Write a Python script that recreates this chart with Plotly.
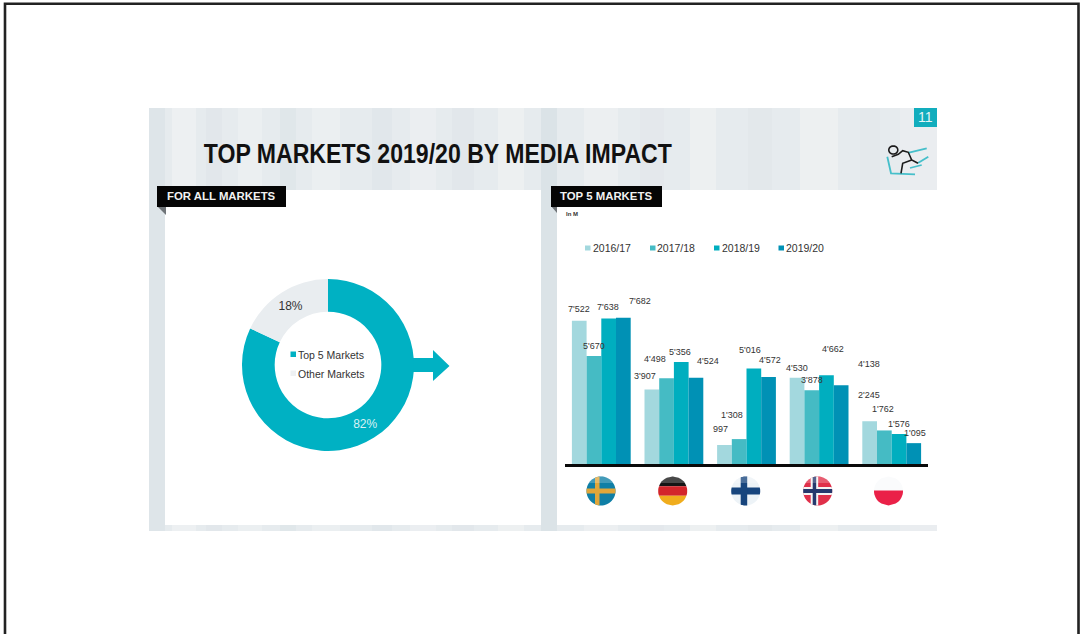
import math
import plotly.graph_objects as go

W, H = 1082, 634

# Media impact in millions, one list per season
markets = ["Sweden", "Germany", "Finland", "Norway", "Poland"]
seasons = ["2016/17", "2017/18", "2018/19", "2019/20"]
impact_2016_17 = [7522, 3907, 997, 4530, 2245]
impact_2017_18 = [5670, 4498, 1308, 3878, 1762]
impact_2018_19 = [7638, 5356, 5016, 4662, 1576]
impact_2019_20 = [7682, 4524, 4572, 4138, 1095]
share_labels = ["Top 5 Markets", "Other Markets"]
share_values = [82, 18]

season_colors = ["#a3d8de", "#45bbc4", "#00aebf", "#0091b5"]
TEAL = "#00b1c3"
INK = "#2b2b2b"
FONT = "Liberation Sans"
HEADLINE = "TOP MARKETS 2019/20 BY MEDIA IMPACT"

# Nudges of each value label from its bar top, in pixels (right, up), per season
label_nudges = [
    [(0, 12), (-7, 14), (-4, 16), (0, 10), (-1, 26)],
    [(0, 10), (-12, 19), (-7, 24), (0, 10), (-1, 21)],
    [(-1, 12), (-1, 10), (-4, 18), (7, 26), (0, 10)],
    [(17, 17), (12, 17), (1, 17), (28, 21), (1, 10)],
]

# Soft vertical streaks of the slide's marbled backdrop: left, right, tone, opacity
backdrop_streaks = [
    (149, 165, "#d9e1e6", 0.6), (172, 196, "#f1f4f5", 0.6), (206, 222, "#dde4e8", 0.5),
    (238, 262, "#f0f3f4", 0.5), (280, 296, "#dce4e8", 0.6), (312, 340, "#eef1f3", 0.6),
    (372, 392, "#dbe3e7", 0.5), (410, 436, "#eff2f3", 0.5), (452, 474, "#dde4e8", 0.5),
    (498, 524, "#f1f3f4", 0.6), (541, 557, "#d6dfe4", 0.7), (584, 618, "#f0f2f3", 0.6),
    (640, 664, "#e1e6e9", 0.5), (690, 716, "#f2f3f4", 0.6), (748, 772, "#dfe5e8", 0.5),
    (800, 838, "#f2f3f4", 0.6), (860, 880, "#e2e7e9", 0.5), (900, 937, "#eef0f1", 0.5),
]


def fx(x):
    return x / W


def fy(y):
    return 1 - y / H


def poly(points, color, opacity=1):
    d = "M" + "L".join(f"{fx(x):.5f},{fy(y):.5f}" for x, y in points) + "Z"
    return dict(type="path", xref="paper", yref="paper", path=d, opacity=opacity,
                fillcolor=color, line_width=0, layer="below")


def rect(x0, y0, x1, y1, color, opacity=1):
    return dict(type="rect", xref="paper", yref="paper", x0=fx(x0), x1=fx(x1),
                y0=fy(y0), y1=fy(y1), fillcolor=color, line_width=0,
                layer="below", opacity=opacity)


def stroke(points, color, width):
    d = "M" + "L".join(f"{fx(x):.5f},{fy(y):.5f}" for x, y in points)
    return dict(type="path", xref="paper", yref="paper", path=d,
                line=dict(color=color, width=width), layer="below")


def disc(cx, cy, r, color):
    return poly([(cx + r * math.cos(a / 30 * math.pi), cy + r * math.sin(a / 30 * math.pi))
                 for a in range(60)], color)


def hband(cx, cy, r, y0, y1, color, opacity=1):
    """Horizontal stripe between offsets y0 and y1, clipped to the flag's circle."""
    steps = [y0 + (y1 - y0) * i / 8 for i in range(9)]
    half = [math.sqrt(max(r * r - y * y, 0)) for y in steps]
    return poly([(cx + h, cy + y) for h, y in zip(half, steps)]
                + [(cx - h, cy + y) for h, y in zip(half[::-1], steps[::-1])], color, opacity)


def vband(cx, cy, r, x0, x1, color):
    """Vertical stripe between offsets x0 and x1, clipped to the flag's circle."""
    steps = [x0 + (x1 - x0) * i / 8 for i in range(9)]
    half = [math.sqrt(max(r * r - x * x, 0)) for x in steps]
    return poly([(cx + x, cy + h) for h, x in zip(half, steps)]
                + [(cx + x, cy - h) for h, x in zip(half[::-1], steps[::-1])], color)


def text(x, y, s, size, color=INK, weight=400, anchor="left"):
    return dict(xref="paper", yref="paper", x=fx(x), y=fy(y), text=s,
                showarrow=False, xanchor=anchor, yanchor="middle",
                font=dict(family=FONT, size=size, color=color, weight=weight),
                borderpad=0, borderwidth=0)


shapes = [
    # page frame, open at the bottom
    stroke([(5, H + 5), (5, 3.7), (1078.5, 3.7), (1078.5, H + 5)], "#222222", 2.6),
    # slide backdrop
    rect(149, 108, 937, 531, "#e6ebee"),
]
for left, right, tone, alpha in backdrop_streaks:
    shapes.append(rect(left, 108, right, 531, tone, alpha))
shapes += [
    rect(165, 190, 541, 525, "#ffffff"),
    rect(557, 190, 937, 525, "#ffffff"),
    # section tabs
    poly([(157, 206), (166, 206), (166, 215)], "#6f7478"),
    rect(157, 186, 286, 207, "#050505"),
    poly([(551, 206), (557, 206), (557, 213)], "#6f7478"),
    rect(551, 186, 662, 207, "#050505"),
    # arrow leaving the ring
    poly([(411, 358), (433, 358), (433, 350), (449.5, 366), (433, 381), (433, 372), (411, 372)], TEAL),
    # page number badge
    rect(914, 108, 937, 127, "#12adbd"),
    # skier pictogram
    stroke([(887.3, 156.7), (891, 173.3), (915, 174.3)], "#45bfca", 1.8),
    stroke([(908, 153), (926.7, 148.3)], "#45bfca", 1.8),
    stroke([(918, 163), (928.3, 156.7)], "#45bfca", 1.8),
    stroke([(910, 168), (921.7, 165)], "#45bfca", 1.8),
    stroke([(891.7, 156.7), (898.3, 154.3), (902.7, 150.7), (908.3, 152.3), (911.7, 160), (918, 163.3)],
           "#1c1c1c", 1.6),
    stroke([(911.7, 160), (902.7, 163.3), (901, 173.3)], "#1c1c1c", 1.6),
]
ring = [(893.3 + 4.5 * math.cos(i / 12 * math.pi), 150 + 4 * math.sin(i / 12 * math.pi))
        for i in range(25)]
shapes.append(stroke(ring, "#1c1c1c", 1.6))

# Flags under the axis
R = 14.5
sx, gx, fix, nx, px = 601, 672.7, 745.7, 817.7, 888.5
cy = 491
shapes += [
    disc(sx, cy, R, "#0f7fa6"),
    hband(sx, cy, R, -2.5, 2.5, "#e0a63a"),
    vband(sx, cy, R, -6, -1.5, "#e0a63a"),
    hband(gx, cy, R, -R, -4.8, "#151515"),
    hband(gx, cy, R, -4.8, 4.8, "#d3252b"),
    hband(gx, cy, R, 4.8, R, "#f0ad1d"),
    disc(fix, cy, R, "#edf3f7"),
    hband(fix, cy, R, -3.5, 3.5, "#17457d"),
    vband(fix, cy, R, -5, 1.5, "#17457d"),
    disc(nx, cy, R, "#e0304a"),
    hband(nx, cy, R, -4, 4, "#f4f4f4"),
    vband(nx, cy, R, -7, 0.5, "#f4f4f4"),
    hband(nx, cy, R, -2, 2, "#26396d"),
    vband(nx, cy, R, -5, -1.5, "#26396d"),
    hband(px, cy, R, -R, -0.5, "#fafbfc"),
    hband(px, cy, R, -0.5, R, "#ea2148"),
]
# Glossy highlight across the top of each flag
for flag_x in (sx, gx, fix, nx):
    shapes.append(hband(flag_x, cy, R, -R, -8, "#ffffff", 0.22))
# Chart keys
shapes += [rect(290.5, 351.5, 296, 357, TEAL), rect(290.5, 370.5, 296, 376, "#eef1f3")]
for key_x, color in zip([585, 650, 714, 778.5], season_colors):
    shapes.append(rect(key_x, 245.5, key_x + 5.5, 250.5, color))

annotations = [
    text(164, 154, HEADLINE, 27, "#111111", 700),
    text(167, 196, "FOR ALL MARKETS", 11.4, "#f2f2f2", 700),
    text(560, 196, "TOP 5 MARKETS", 11.4, "#f2f2f2", 700),
    text(566, 214, "In M", 6, "#333333", 700),
    text(298, 354.5, share_labels[0], 10.5, "#333333"),
    text(298, 373.5, share_labels[1], 10.5, "#333333"),
    text(925.5, 117.5, "11", 14, "#e6f6f8", 400, "center"),
]
for text_x, season in zip([593, 657, 722, 786], seasons):
    annotations.append(text(text_x, 248, season, 10.5, "#333333"))

# Axis area in page pixels; the scale gives about 52.5 million per pixel
AX_LEFT, AX_RIGHT, AX_BASE, AX_TOP = 565, 928, 464, 264
Y_MAX = (AX_BASE - AX_TOP) * 52.5
BAR_SHARE = 0.81

fig = go.Figure()

series = [impact_2016_17, impact_2017_18, impact_2018_19, impact_2019_20]
bar_step = (AX_RIGHT - AX_LEFT) / len(markets) * BAR_SHARE / len(seasons)
for j, (season, values) in enumerate(zip(seasons, series)):
    fig.add_bar(name=season, x=markets, y=values, marker=dict(color=season_colors[j], line_width=0),
                hoverinfo="x+y+name")
    for i, v in enumerate(values):
        dx, dy = label_nudges[j][i]
        annotations.append(dict(
            xref="x", yref="y", x=markets[i], y=v, text=f"{v:,}".replace(",", "'"),
            showarrow=False, xanchor="center", yanchor="middle",
            xshift=(j - 1.5) * bar_step + dx, yshift=dy,
            font=dict(family=FONT, size=9, color="#333333"),
        ))

# Share ring, drawn clockwise from twelve o'clock
CX, CY, RING = 328, 365, 86
fig.add_pie(
    labels=share_labels, values=share_values, sort=False, direction="clockwise", rotation=0,
    hole=0.62, marker=dict(colors=[TEAL, "#e9edf0"], line_width=0),
    textinfo="percent", textposition="inside", insidetextorientation="horizontal",
    textfont=dict(family=FONT, size=12), insidetextfont=dict(color=["#d9f2f5", "#333333"]),
    domain=dict(x=[fx(CX - RING), fx(CX + RING)], y=[fy(CY + RING), fy(CY - RING)]),
)

fig.update_layout(
    width=W, height=H, autosize=False, margin=dict(l=0, r=0, t=0, b=0, pad=0),
    paper_bgcolor="#ffffff", plot_bgcolor="rgba(0,0,0,0)",
    showlegend=False, barmode="group", bargap=1 - BAR_SHARE, bargroupgap=0,
    font=dict(family=FONT),
    xaxis=dict(domain=[fx(AX_LEFT), fx(AX_RIGHT)], showticklabels=False, ticks="",
               showgrid=False, zeroline=False, showline=True, linecolor="#0a0a0a", linewidth=3),
    yaxis=dict(domain=[fy(AX_BASE), fy(AX_TOP)], range=[0, Y_MAX], visible=False),
    shapes=shapes, annotations=annotations,
)

# The headline face is a condensed grotesque: fit the glyphs to the measured run length
condense_headline = """
document.querySelectorAll('.annotation-text').forEach(function (t) {
  if (t.textContent.indexOf('TOP MARKETS 2019') === 0) {
    t.setAttribute('textLength', '468');
    t.setAttribute('lengthAdjust', 'spacingAndGlyphs');
  }
});
"""

fig.write_html("out.html", post_script=condense_headline)
